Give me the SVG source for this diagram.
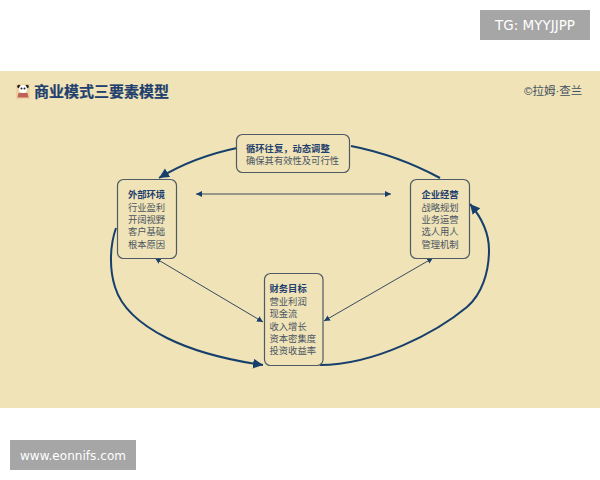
<svg xmlns="http://www.w3.org/2000/svg" width="600" height="480" viewBox="0 0 600 480">
<style>
text{font-family:"Noto Sans CJK SC","Liberation Sans",sans-serif}
.box{fill:#efe3b7;stroke:#4f5a66;stroke-width:1.2}
.t{font-size:9.300px;font-weight:700;fill:#1f3f6e;text-anchor:middle}
.r{font-size:9.300px;fill:#4b5563;text-anchor:middle}
.l{text-anchor:start}
.big{fill:none;stroke:#173f6b;stroke-width:2}
.thin{fill:none;stroke:#3a4a5c;stroke-width:1}
.wm{fill:#a6a6a6}
.wt{fill:#fff;font-family:"DejaVu Sans",sans-serif;font-size:12px}
.lat{font-family:"Liberation Sans",sans-serif}
</style>
<defs>
<marker id="bigA" markerUnits="userSpaceOnUse" markerWidth="12" markerHeight="12" refX="10" refY="5" orient="auto"><path d="M0 0L10 5L0 10Z" fill="#173f6b"/></marker>
<marker id="smA" markerUnits="userSpaceOnUse" markerWidth="8" markerHeight="8" refX="6" refY="3" orient="auto-start-reverse"><path d="M0 0L6 3L0 6Z" fill="#173f6b"/></marker>
</defs>
<rect width="600" height="480" fill="#fff"/>
<rect y="71" width="600" height="337" fill="#efe3b7"/>
<g id="wm-top"><rect class="wm" x="480" y="10" width="110" height="30"/><text class="wt" x="535" y="30" text-anchor="middle" style="font-size:13.500px">TG: MYYJJPP</text></g>
<g id="wm-bottom"><rect class="wm" x="10" y="440" width="126" height="30"/><text class="wt" x="73" y="460" text-anchor="middle" textLength="106">www.eonnifs.com</text></g>
<g id="panda">
<rect x="16" y="84" width="14" height="15" fill="#ecd3a0"/>
<circle cx="19" cy="86.500" r="1.800" fill="#222"/><circle cx="27" cy="86.500" r="1.800" fill="#222"/>
<circle cx="23" cy="89" r="4" fill="#fff"/><circle cx="21.500" cy="88.500" r="1" fill="#222"/><circle cx="24.500" cy="88.500" r="1" fill="#222"/>
<path d="M18.500 93h9l1 4.500H17.500Z" fill="#c0605a"/>
</g>
<text x="34" y="97" font-size="15" font-weight="700" fill="#1f3f6e" stroke="#1f3f6e" stroke-width=".2">商业模式三要素模型</text>
<text x="524" y="95" font-size="11.500" fill="#3f4f5f"><tspan class="lat">©</tspan>拉姆<tspan class="lat">·</tspan>查兰</text>
<g id="connectors">
<path class="big" d="M237 148C208 154 182 164 159 178" marker-end="url(#bigA)"/>
<path class="big" d="M351 146C382 152 414 164 440 178"/>
<path class="big" d="M116 228C110 245 109 268 115 287C122 310 143 326 167 338C195 352 228 360 263 365" marker-end="url(#bigA)"/>
<path class="big" d="M320 365C375 365 437 332 467 307C482 294 489 272 489 250C489 234 482 218 470 204" marker-end="url(#bigA)"/>
<path class="thin" d="M196 194H391" marker-start="url(#smA)" marker-end="url(#smA)"/>
<path class="thin" d="M155 258L263 322" marker-start="url(#smA)" marker-end="url(#smA)"/>
<path class="thin" d="M433 258L324 321" marker-start="url(#smA)" marker-end="url(#smA)"/>
</g>
<g id="node-top">
<rect class="box" x="236.500" y="134.500" width="113" height="38" rx="6"/>
<text class="t l" x="246" y="152">循环往复，动态调整</text>
<text class="r l" x="246" y="164">确保其有效性及可行性</text>
</g>
<g id="node-left">
<rect class="box" x="117.500" y="179.500" width="59" height="79" rx="6"/>
<text class="t" x="146.500" y="197.500">外部环境</text>
<text class="r" x="146.500" y="210.500">行业盈利</text>
<text class="r" x="146.500" y="222.500">开阔视野</text>
<text class="r" x="146.500" y="235">客户基础</text>
<text class="r" x="146.500" y="247.500">根本原因</text>
</g>
<g id="node-right">
<rect class="box" x="410.500" y="179.500" width="59" height="79" rx="6"/>
<text class="t" x="440" y="197.500">企业经营</text>
<text class="r" x="440" y="210.500">战略规划</text>
<text class="r" x="440" y="222.500">业务运营</text>
<text class="r" x="440" y="235">选人用人</text>
<text class="r" x="440" y="247.500">管理机制</text>
</g>
<g id="node-bottom">
<rect class="box" x="264.500" y="273.500" width="58.500" height="92" rx="6"/>
<text x="269.500" y="291.500" class="t l">财务目标</text>
<text x="269.500" y="304.500" class="r l">营业利润</text>
<text x="269.500" y="316.500" class="r l">现金流</text>
<text x="269.500" y="329.500" class="r l">收入增长</text>
<text x="269.500" y="341.500" class="r l">资本密集度</text>
<text x="269.500" y="354" class="r l">投资收益率</text>
</g>
</svg>
